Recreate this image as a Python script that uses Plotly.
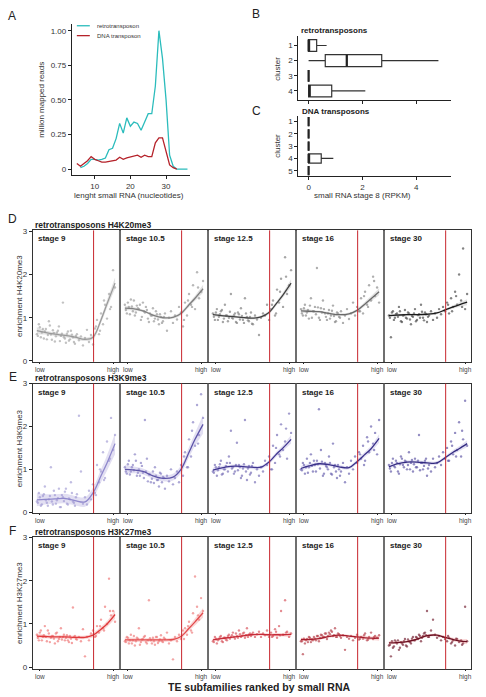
import plotly.graph_objects as go

W, H = 486, 697
FONT = "Liberation Sans, Arial, sans-serif"

# ---------------- Panel A data ----------------
len_retro = [6, 7, 8, 9, 10, 11, 12, 13, 14, 15, 16, 17, 18, 19, 20, 21, 22, 23, 24, 25, 26, 27, 28, 29, 30, 31, 32, 33, 34, 35, 36]
val_retro = [0.01, 0.02, 0.04, 0.07, 0.07, 0.065, 0.07, 0.08, 0.14, 0.15, 0.22, 0.33, 0.26, 0.37, 0.31, 0.34, 0.33, 0.28, 0.34, 0.40, 0.40, 0.60, 1.00, 0.80, 0.50, 0.10, 0.02, 0.0, 0.0, 0.0, 0.0]
len_dna = [5, 6, 7, 8, 9, 10, 11, 12, 13, 14, 15, 16, 17, 18, 19, 20, 21, 22, 23, 24, 25, 26, 27, 28, 29, 30, 31, 32, 33]
val_dna = [0.04, 0.02, 0.04, 0.06, 0.09, 0.07, 0.06, 0.05, 0.05, 0.055, 0.06, 0.065, 0.085, 0.07, 0.08, 0.085, 0.09, 0.10, 0.085, 0.10, 0.09, 0.09, 0.19, 0.225, 0.225, 0.12, 0.03, 0.01, 0.0]

# ---------------- Panel B / C box stats ----------------
b_cluster = [1, 2, 3, 4]
b_low = [0.0, 0.0, 0.0, 0.0]
b_q1 = [0.0, 0.62, 0.0, 0.0]
b_med = [0.0, 1.42, 0.0, 0.04]
b_q3 = [0.30, 2.72, 0.0, 0.86]
b_high = [0.67, 4.83, 0.0, 2.11]

c_cluster = [1, 2, 3, 4, 5]
c_low = [0.0, 0.0, 0.0, 0.0, 0.0]
c_q1 = [0.0, 0.0, 0.0, 0.0, 0.0]
c_med = [0.0, 0.0, 0.0, 0.0, 0.0]
c_q3 = [0.0, 0.0, 0.0, 0.47, 0.0]
c_high = [0.0, 0.0, 0.0, 0.92, 0.0]

# ---------------- Panels D/E/F ----------------
stages = ["stage 9", "stage 10.5", "stage 12.5", "stage 16", "stage 30"]
rank_ticks = [2.5, 39.0]
rank_labels = ["low", "high"]
rank_boundary = 29.3
knot_rank = [1, 5, 10, 15, 20, 25, 29, 33, 36, 40]
extra_rank = [1.5, 2.5, 3.5, 4.5, 5.5, 6.5, 7.5, 8.5, 9.5, 10.5, 11.5, 12.5, 13.5, 14.5, 15.5, 16.5, 17.5, 18.5, 19.5, 20.5, 30.5, 32.5, 34.5, 37.5]

# H4K20me3
d_pts_9 = [0.62, 0.85, 0.55, 0.74, 0.68, 0.50, 0.92, 0.61, 0.71, 0.45, 0.66, 0.80, 0.58, 1.35, 0.52, 0.63, 0.47, 0.70, 0.55, 0.40, 0.62, 0.48, 0.57, 0.36, 0.53, 0.72, 0.44, 0.60, 0.38, 0.75, 0.95, 0.62, 1.10, 0.85, 1.30, 0.98, 1.55, 1.25, 2.10, 1.70]
d_pts_105 = [1.30, 1.10, 1.25, 1.42, 1.15, 1.05, 1.28, 1.20, 0.95, 1.35, 1.12, 1.18, 0.90, 1.05, 1.22, 0.98, 1.08, 0.85, 1.02, 0.92, 1.10, 0.70, 1.00, 1.15, 0.88, 1.05, 0.96, 1.25, 1.12, 0.80, 1.35, 1.05, 1.55, 1.30, 1.75, 1.20, 2.05, 1.45, 1.60, 1.85]
d_pts_125 = [1.10, 0.95, 1.20, 1.02, 1.15, 0.90, 1.30, 1.05, 1.00, 1.55, 0.98, 1.10, 0.88, 1.08, 1.22, 0.95, 1.45, 1.02, 0.92, 1.12, 0.85, 1.05, 0.96, 0.60, 1.00, 1.10, 1.05, 1.30, 0.95, 1.20, 1.40, 1.05, 1.65, 1.35, 1.90, 1.25, 2.40, 1.55, 1.75, 2.10]
d_pts_16 = [1.20, 1.05, 1.30, 1.12, 0.98, 1.45, 1.15, 1.25, 2.15, 1.00, 1.22, 1.40, 1.10, 0.95, 1.18, 1.05, 1.28, 0.90, 1.12, 1.02, 1.15, 0.88, 1.05, 1.20, 0.97, 1.10, 1.35, 1.05, 1.25, 1.15, 1.45, 1.10, 1.60, 1.30, 1.75, 1.40, 1.95, 1.50, 1.70, 1.35]
d_pts_30 = [1.05, 0.55, 1.15, 1.00, 1.10, 1.25, 0.92, 1.05, 1.18, 0.98, 1.10, 0.85, 1.02, 1.20, 0.95, 1.08, 1.30, 1.00, 1.12, 0.90, 1.05, 1.15, 0.95, 1.10, 1.00, 1.20, 1.08, 1.25, 1.15, 1.35, 1.10, 1.45, 1.25, 1.60, 1.30, 2.00, 1.40, 2.60, 1.20, 1.55]
d_ext_9 = [0.58, 0.78, 0.66, 0.52, 0.74, 0.60, 0.82, 0.49, 0.65, 0.57, 0.70, 0.46, 0.63, 0.55, 0.42, 0.68, 0.50, 0.61, 0.44, 0.58, 0.80, 0.70, 1.40, 1.20]
d_ext_105 = [1.18, 1.35, 1.08, 1.26, 1.40, 1.12, 1.22, 1.30, 1.02, 1.15, 1.25, 0.98, 1.10, 1.05, 0.92, 1.15, 0.96, 1.08, 0.88, 1.02, 0.95, 1.40, 1.25, 1.70]
d_ext_125 = [1.02, 1.12, 0.95, 1.08, 1.18, 0.98, 1.05, 0.92, 1.14, 1.00, 1.06, 0.90, 1.12, 0.96, 1.04, 0.88, 1.10, 0.94, 1.02, 0.86, 1.30, 1.10, 1.60, 1.95]
d_ext_16 = [1.10, 1.22, 1.05, 1.18, 1.28, 1.00, 1.15, 1.08, 1.24, 0.95, 1.12, 1.20, 1.02, 1.10, 0.98, 1.16, 1.04, 0.92, 1.10, 1.00, 1.15, 1.50, 1.25, 1.85]
d_ext_30 = [1.00, 1.12, 0.95, 1.08, 1.02, 1.15, 0.90, 1.06, 1.00, 1.12, 0.96, 1.04, 1.10, 0.92, 1.06, 1.00, 1.14, 0.94, 1.08, 1.02, 1.30, 1.15, 1.50, 1.25]
d_fit_9 = [0.70, 0.66, 0.62, 0.59, 0.55, 0.50, 0.55, 0.95, 1.32, 1.80]
d_fit_105 = [1.22, 1.21, 1.16, 1.06, 1.00, 1.01, 1.10, 1.30, 1.45, 1.67]
d_fit_125 = [1.07, 1.05, 1.03, 1.01, 0.99, 1.02, 1.12, 1.35, 1.53, 1.80]
d_fit_16 = [1.16, 1.15, 1.14, 1.10, 1.07, 1.09, 1.17, 1.32, 1.44, 1.60]
d_fit_30 = [1.05, 1.06, 1.07, 1.07, 1.08, 1.11, 1.18, 1.25, 1.30, 1.36]
d_se_9 = [0.08, 0.05, 0.04, 0.04, 0.04, 0.04, 0.05, 0.07, 0.09, 0.13]
d_se_105 = [0.05, 0.04, 0.03, 0.03, 0.03, 0.03, 0.04, 0.05, 0.06, 0.09]
d_se_125 = [0.04, 0.03, 0.03, 0.03, 0.03, 0.03, 0.04, 0.05, 0.06, 0.09]
d_se_16 = [0.05, 0.04, 0.03, 0.03, 0.03, 0.03, 0.04, 0.05, 0.06, 0.08]
d_se_30 = [0.04, 0.03, 0.03, 0.03, 0.03, 0.03, 0.03, 0.04, 0.05, 0.07]

# H3K9me3
e_pts_9 = [0.25, 0.45, 0.15, 0.38, 0.60, 0.22, 0.30, 1.05, 0.18, 0.40, 0.28, 0.55, 0.12, 0.35, 0.48, 0.20, 0.32, 0.70, 0.25, 0.15, 0.42, 2.25, 0.95, 0.20, 0.35, 0.18, 0.50, 0.30, 0.65, 0.45, 1.10, 0.70, 0.95, 1.40, 0.80, 1.65, 1.20, 2.20, 1.45, 1.80]
e_pts_105 = [1.05, 0.90, 1.20, 0.95, 1.10, 1.35, 0.85, 1.00, 1.15, 0.92, 2.15, 1.25, 0.88, 0.70, 0.95, 1.05, 0.75, 0.60, 0.90, 0.82, 0.55, 0.85, 0.72, 1.00, 0.65, 0.80, 0.95, 0.70, 1.10, 0.85, 1.40, 1.05, 1.70, 1.30, 2.10, 1.55, 2.50, 1.80, 2.75, 2.20]
e_pts_125 = [0.95, 1.10, 0.85, 1.05, 1.20, 0.90, 1.00, 1.15, 1.30, 1.90, 1.05, 0.95, 1.62, 1.10, 0.80, 1.02, 2.15, 0.75, 1.08, 0.92, 1.15, 0.70, 1.00, 0.85, 1.05, 0.95, 1.20, 1.10, 1.30, 1.00, 1.55, 1.15, 1.80, 1.35, 2.05, 1.45, 1.65, 1.25, 2.30, 1.85]
e_pts_16 = [1.00, 1.15, 0.90, 1.25, 1.05, 1.35, 0.95, 1.10, 1.20, 2.40, 1.45, 0.85, 1.15, 1.05, 1.30, 0.90, 1.60, 1.10, 0.80, 1.00, 0.95, 1.15, 0.70, 1.05, 0.90, 1.20, 1.00, 1.30, 1.15, 1.40, 1.25, 1.55, 1.20, 1.75, 1.40, 2.00, 1.60, 1.85, 1.35, 2.15]
e_pts_30 = [1.10, 0.95, 1.25, 1.05, 1.15, 0.90, 1.30, 1.10, 1.20, 1.00, 1.40, 1.15, 0.95, 1.25, 1.05, 1.80, 1.15, 1.00, 1.20, 0.85, 1.10, 0.95, 1.25, 1.05, 1.15, 1.30, 1.10, 1.40, 1.25, 1.50, 1.20, 1.65, 1.35, 1.85, 1.45, 2.10, 1.30, 1.70, 2.60, 1.55]
e_ext_9 = [0.22, 0.35, 0.18, 0.42, 0.28, 0.15, 0.38, 0.25, 0.50, 0.20, 0.33, 0.12, 0.40, 0.26, 0.55, 0.18, 0.30, 0.45, 0.22, 0.35, 0.40, 1.00, 0.75, 1.25]
e_ext_105 = [0.95, 1.12, 0.88, 1.05, 0.98, 1.20, 0.92, 0.85, 1.08, 0.80, 0.95, 0.72, 0.88, 0.78, 0.68, 0.85, 0.75, 0.92, 0.70, 0.80, 1.30, 1.05, 1.90, 1.60]
e_ext_125 = [0.92, 1.05, 0.98, 1.12, 0.88, 1.00, 1.08, 0.95, 1.15, 1.02, 0.90, 1.10, 0.98, 1.05, 0.85, 1.12, 0.95, 1.02, 0.88, 1.08, 1.00, 1.50, 1.30, 1.95]
e_ext_16 = [0.98, 1.10, 1.05, 0.92, 1.15, 1.08, 1.20, 0.95, 1.12, 1.02, 1.18, 0.90, 1.08, 1.00, 1.15, 0.88, 1.05, 0.95, 1.10, 0.85, 1.35, 1.10, 1.65, 1.45]
e_ext_30 = [1.02, 1.15, 1.08, 1.20, 0.95, 1.12, 1.25, 1.05, 1.18, 1.10, 1.00, 1.22, 1.12, 1.05, 1.20, 0.98, 1.15, 1.08, 1.25, 1.02, 1.20, 1.55, 1.30, 1.90]
e_fit_9 = [0.29, 0.30, 0.31, 0.32, 0.27, 0.24, 0.45, 0.85, 1.15, 1.60]
e_fit_105 = [1.00, 0.99, 0.95, 0.85, 0.79, 0.82, 1.00, 1.40, 1.70, 2.05]
e_fit_125 = [0.98, 1.03, 1.07, 1.07, 1.05, 1.05, 1.17, 1.37, 1.50, 1.70]
e_fit_16 = [1.02, 1.08, 1.13, 1.11, 1.06, 1.04, 1.18, 1.35, 1.48, 1.72]
e_fit_30 = [1.06, 1.13, 1.17, 1.17, 1.15, 1.15, 1.27, 1.40, 1.48, 1.60]
e_se_9 = [0.15, 0.12, 0.11, 0.11, 0.11, 0.11, 0.12, 0.15, 0.18, 0.25]
e_se_105 = [0.10, 0.08, 0.07, 0.07, 0.07, 0.08, 0.09, 0.12, 0.15, 0.22]
e_se_125 = [0.06, 0.05, 0.04, 0.04, 0.04, 0.04, 0.05, 0.06, 0.07, 0.10]
e_se_16 = [0.06, 0.05, 0.04, 0.04, 0.04, 0.04, 0.05, 0.06, 0.07, 0.10]
e_se_30 = [0.05, 0.04, 0.04, 0.04, 0.04, 0.04, 0.04, 0.05, 0.06, 0.08]

# H3K27me3
f_pts_9 = [0.75, 0.62, 0.85, 0.70, 0.95, 0.60, 0.78, 0.68, 0.72, 0.55, 0.80, 0.65, 0.90, 0.70, 0.62, 0.74, 0.58, 0.66, 1.38, 0.72, 0.64, 0.70, 0.60, 0.88, 0.25, 0.70, 0.62, 0.78, 0.85, 0.70, 0.95, 0.80, 1.10, 0.90, 1.40, 1.00, 2.05, 1.20, 1.30, 1.05]
f_pts_105 = [0.60, 0.70, 0.55, 0.75, 0.62, 0.50, 0.68, 0.90, 0.58, 0.65, 0.72, 0.55, 1.55, 0.62, 0.68, 0.52, 0.70, 0.60, 0.74, 0.58, 0.65, 0.80, 0.55, 0.62, 0.18, 0.70, 0.60, 0.75, 0.65, 0.85, 0.90, 0.75, 1.05, 0.85, 1.25, 2.10, 1.40, 1.10, 1.60, 1.30]
f_pts_125 = [0.60, 0.70, 0.55, 0.65, 0.72, 0.58, 0.68, 0.62, 0.75, 0.70, 0.80, 0.66, 0.72, 0.85, 0.70, 0.78, 0.68, 0.90, 0.75, 0.72, 0.80, 0.70, 0.76, 0.82, 0.70, 0.78, 0.74, 0.85, 0.70, 0.80, 0.72, 0.88, 0.68, 0.95, 1.30, 0.75, 1.55, 0.82, 0.70, 0.78]
f_pts_16 = [0.60, 0.30, 0.55, 0.65, 0.70, 0.58, 0.62, 0.66, 0.72, 0.60, 0.75, 0.70, 0.78, 0.65, 0.80, 0.85, 0.72, 0.90, 0.70, 0.76, 0.68, 0.74, 0.40, 0.70, 0.66, 0.72, 0.62, 0.68, 0.75, 0.64, 0.70, 0.66, 0.78, 0.62, 0.70, 0.80, 0.65, 0.72, 0.68, 0.74]
f_pts_30 = [0.50, 0.25, 0.45, 0.62, 0.55, 0.40, 0.58, 0.52, 0.65, 0.48, 0.60, 0.55, 0.70, 0.62, 0.68, 0.75, 0.60, 0.72, 0.80, 1.30, 0.70, 0.85, 1.10, 0.75, 0.68, 0.72, 0.62, 0.70, 0.65, 0.60, 0.68, 0.55, 0.62, 0.50, 0.65, 0.58, 0.62, 0.55, 1.40, 0.60]
f_ext_9 = [0.68, 0.80, 0.62, 0.74, 0.70, 0.85, 0.58, 0.72, 0.66, 0.78, 0.60, 0.70, 0.64, 0.75, 0.68, 0.62, 0.72, 0.56, 0.70, 0.65, 0.72, 0.95, 0.85, 1.30]
f_ext_105 = [0.58, 0.68, 0.62, 0.55, 0.72, 0.60, 0.66, 0.52, 0.64, 0.70, 0.58, 0.62, 0.67, 0.55, 0.60, 0.70, 0.56, 0.64, 0.60, 0.68, 0.65, 0.95, 0.80, 1.20]
f_ext_125 = [0.58, 0.66, 0.62, 0.70, 0.60, 0.68, 0.64, 0.72, 0.66, 0.74, 0.70, 0.78, 0.68, 0.76, 0.72, 0.80, 0.74, 0.70, 0.78, 0.76, 0.70, 0.82, 0.74, 0.80]
f_ext_16 = [0.60, 0.66, 0.62, 0.58, 0.68, 0.64, 0.70, 0.62, 0.72, 0.68, 0.74, 0.70, 0.78, 0.72, 0.76, 0.82, 0.74, 0.70, 0.78, 0.72, 0.66, 0.74, 0.64, 0.70]
f_ext_30 = [0.52, 0.60, 0.48, 0.58, 0.62, 0.45, 0.55, 0.60, 0.50, 0.64, 0.58, 0.66, 0.62, 0.70, 0.65, 0.72, 0.68, 0.78, 0.74, 0.70, 0.72, 0.58, 0.66, 0.52]
f_fit_9 = [0.72, 0.71, 0.70, 0.70, 0.69, 0.69, 0.74, 0.88, 1.00, 1.22]
f_fit_105 = [0.63, 0.63, 0.63, 0.63, 0.63, 0.64, 0.71, 0.90, 1.05, 1.26]
f_fit_125 = [0.63, 0.66, 0.69, 0.72, 0.75, 0.76, 0.75, 0.75, 0.75, 0.76]
f_fit_16 = [0.64, 0.64, 0.66, 0.71, 0.74, 0.72, 0.70, 0.68, 0.67, 0.67]
f_fit_30 = [0.56, 0.57, 0.59, 0.65, 0.73, 0.74, 0.69, 0.64, 0.61, 0.59]
f_se_9 = [0.06, 0.04, 0.04, 0.04, 0.04, 0.04, 0.05, 0.06, 0.07, 0.10]
f_se_105 = [0.06, 0.05, 0.04, 0.04, 0.04, 0.04, 0.05, 0.06, 0.08, 0.11]
f_se_125 = [0.04, 0.03, 0.03, 0.03, 0.03, 0.03, 0.03, 0.04, 0.04, 0.06]
f_se_16 = [0.04, 0.03, 0.03, 0.03, 0.03, 0.03, 0.03, 0.04, 0.04, 0.06]
f_se_30 = [0.04, 0.03, 0.03, 0.03, 0.03, 0.03, 0.03, 0.04, 0.04, 0.06]

rows = [
    dict(letter="D", title="retrotransposons H4K20me3", ytitle="enrichment H4K20me3",
         pts=[d_pts_9, d_pts_105, d_pts_125, d_pts_16, d_pts_30],
         ext=[d_ext_9, d_ext_105, d_ext_125, d_ext_16, d_ext_30],
         fit=[d_fit_9, d_fit_105, d_fit_125, d_fit_16, d_fit_30],
         se=[d_se_9, d_se_105, d_se_125, d_se_16, d_se_30],
         top=229, bottom=362, yr=[-0.02, 3.02], ly=218, ty=224,
         ptcol=["#a8a8a8", "#9a9a9a", "#808080", "#8c8c8c", "#505050"],
         lncol=["#9a9a9a", "#808080", "#404040", "#6a6a6a", "#1a1a1a"],
         ribbon="rgba(160,160,160,0.30)"),
    dict(letter="E", title="retrotransposons H3K9me3", ytitle="enrichment H3K9me3",
         pts=[e_pts_9, e_pts_105, e_pts_125, e_pts_16, e_pts_30],
         ext=[e_ext_9, e_ext_105, e_ext_125, e_ext_16, e_ext_30],
         fit=[e_fit_9, e_fit_105, e_fit_125, e_fit_16, e_fit_30],
         se=[e_se_9, e_se_105, e_se_125, e_se_16, e_se_30],
         top=384, bottom=515, yr=[-0.02, 3.0], ly=377, ty=378,
         ptcol=["#a7a1d6", "#8a83c4", "#7a72b8", "#6e66b0", "#655da8"],
         lncol=["#8f88cc", "#5d54a8", "#3f3590", "#3a3189", "#332b80"],
         ribbon="rgba(150,140,210,0.28)"),
    dict(letter="F", title="retrotransposons H3K27me3", ytitle="enrichment H3K27me3",
         pts=[f_pts_9, f_pts_105, f_pts_125, f_pts_16, f_pts_30],
         ext=[f_ext_9, f_ext_105, f_ext_125, f_ext_16, f_ext_30],
         fit=[f_fit_9, f_fit_105, f_fit_125, f_fit_16, f_fit_30],
         se=[f_se_9, f_se_105, f_se_125, f_se_16, f_se_30],
         top=539, bottom=673, yr=[-0.05, 3.02], ly=533, ty=534,
         ptcol=["#f07a7a", "#ee8080", "#d85a62", "#b84650", "#7a2a3a"],
         lncol=["#e03a3c", "#e24a4c", "#c62a38", "#a41e2e", "#6a1022"],
         ribbon="rgba(240,120,120,0.30)"),
]

panel_left = [33, 121.2, 209.4, 297.6, 385.8]
panel_w = 86.2


def fx(px):
    return px / W


def fy(py):
    return 1 - py / H


fig = go.Figure()
layout = {}
annotations = []
shapes = []

axis_common = dict(showgrid=False, zeroline=False, showline=True, linecolor="#222222",
                   linewidth=1, ticks="outside", ticklen=3, tickcolor="#222222",
                   tickfont=dict(size=8, color="#333333", family=FONT))

# ---------- Panel A ----------
fig.add_trace(go.Scatter(x=len_retro, y=val_retro, mode="lines", xaxis="x", yaxis="y",
                         line=dict(color="#2bbcbc", width=1.3), showlegend=False))
fig.add_trace(go.Scatter(x=len_dna, y=val_dna, mode="lines", xaxis="x", yaxis="y",
                         line=dict(color="#b5222a", width=1.3), showlegend=False))
layout["xaxis"] = dict(axis_common, domain=[fx(72), fx(190)], range=[3.6, 36.6],
                       tickvals=[10, 20, 30], anchor="y")
layout["yaxis"] = dict(axis_common, domain=[fy(173), fy(20)], range=[-0.043, 1.05],
                       tickvals=[0, 0.25, 0.5, 0.75, 1.0],
                       ticktext=["0", "0.25", "0.50", "0.75", "1.00"], anchor="x")
# legend (manual)
for yy, col, txt in [(22, "#2bbcbc", "retrotransposon"), (32, "#b5222a", "DNA transposon")]:
    shapes.append(dict(type="line", xref="paper", yref="paper", x0=fx(77), x1=fx(90),
                       y0=fy(yy), y1=fy(yy), line=dict(color=col, width=1.3)))
    annotations.append(dict(x=fx(95), y=fy(yy), xref="paper", yref="paper", text=txt,
                            showarrow=False, xanchor="left", yanchor="middle",
                            font=dict(size=6, color="#333333", family=FONT)))

# ---------- Panel B ----------
box_style = dict(orientation="h", fillcolor="white", line=dict(color="#333333", width=1.2),
                 whiskerwidth=0, showlegend=False, hoverinfo="skip")
fig.add_trace(go.Box(y=b_cluster, q1=b_q1, median=b_med, q3=b_q3, lowerfence=b_low,
                     upperfence=b_high, width=0.78, xaxis="x2", yaxis="y2", **box_style))
for m, c in zip(b_med, b_cluster):
    fig.add_trace(go.Scatter(x=[m, m], y=[c - 0.39, c + 0.39], mode="lines", xaxis="x2",
                             yaxis="y2", line=dict(color="#222222", width=2.2),
                             showlegend=False, hoverinfo="skip"))
layout["xaxis2"] = dict(axis_common, domain=[fx(299), fx(452)], range=[-0.38, 5.3],
                        tickvals=[0, 2, 4], showticklabels=False, anchor="y2")
layout["yaxis2"] = dict(axis_common, domain=[fy(97), fy(32)], range=[4.59, 0.35],
                        tickvals=b_cluster, anchor="x2")

# ---------- Panel C ----------
fig.add_trace(go.Box(y=c_cluster, q1=c_q1, median=c_med, q3=c_q3, lowerfence=c_low,
                     upperfence=c_high, width=0.75, xaxis="x3", yaxis="y3", **box_style))
for m, c in zip(c_med, c_cluster):
    fig.add_trace(go.Scatter(x=[m, m], y=[c - 0.375, c + 0.375], mode="lines", xaxis="x3",
                             yaxis="y3", line=dict(color="#222222", width=2.2),
                             showlegend=False, hoverinfo="skip"))
layout["xaxis3"] = dict(axis_common, domain=[fx(299), fx(452)], range=[-0.38, 5.3],
                        tickvals=[0, 2, 4], anchor="y3")
layout["yaxis3"] = dict(axis_common, domain=[fy(174), fy(113)], range=[5.43, 0.52],
                        tickvals=c_cluster, anchor="x3")

# ---------- Panels D/E/F ----------
k = 4
for row in rows:
    for i in range(5):
        xa, ya = f"x{k}", f"y{k}"
        pts = row["pts"][i]
        ranks = list(range(1, len(pts) + 1))
        fit = row["fit"][i]
        se = row["se"][i]
        upper = [f + s for f, s in zip(fit, se)]
        lower = [f - s for f, s in zip(fit, se)]
        fig.add_trace(go.Scatter(x=ranks + extra_rank, y=pts + row["ext"][i], mode="markers",
                                 xaxis=xa, yaxis=ya,
                                 marker=dict(size=2.4, color=row["ptcol"][i], opacity=0.7),
                                 showlegend=False, hoverinfo="skip"))
        fig.add_trace(go.Scatter(x=knot_rank, y=upper, mode="lines", xaxis=xa, yaxis=ya,
                                 line=dict(width=0, shape="spline", color=row["ribbon"]),
                                 showlegend=False, hoverinfo="skip"))
        fig.add_trace(go.Scatter(x=knot_rank, y=lower, mode="lines", xaxis=xa, yaxis=ya,
                                 line=dict(width=0, shape="spline", color=row["ribbon"]),
                                 fill="tonexty", fillcolor=row["ribbon"],
                                 showlegend=False, hoverinfo="skip"))
        fig.add_trace(go.Scatter(x=knot_rank, y=fit, mode="lines", xaxis=xa, yaxis=ya,
                                 line=dict(width=1.3, shape="spline", color=row["lncol"][i]),
                                 showlegend=False, hoverinfo="skip"))
        shapes.append(dict(type="line", xref=xa, yref=f"{ya} domain", x0=rank_boundary,
                           x1=rank_boundary, y0=0, y1=1, line=dict(color="#c8262e", width=1)))
        x0 = panel_left[i]
        layout[f"xaxis{k}"] = dict(axis_common, domain=[fx(x0), fx(x0 + panel_w)],
                                   range=[-0.95, 41.95], tickvals=rank_ticks,
                                   ticktext=rank_labels, ticklen=1, mirror=True,
                                   linecolor="#333333", linewidth=1.3,
                                   tickfont=dict(size=6.5, color="#444444", family=FONT),
                                   anchor=ya)
        yax = dict(axis_common, domain=[fy(row["bottom"]), fy(row["top"])],
                   range=row["yr"], tickvals=[0, 1, 2, 3], mirror=True,
                   linecolor="#333333", linewidth=1.3, anchor=xa)
        if i > 0:
            yax.update(showticklabels=False, ticks="")
        layout[f"yaxis{k}"] = yax
        annotations.append(dict(x=fx(x0 + 3), y=fy(row["top"] + 2), xref="paper", yref="paper",
                                text=f"<b>{stages[i]}</b>", showarrow=False,
                                xanchor="left", yanchor="top",
                                font=dict(size=8, color="#222222", family=FONT)))
        if i < 4:
            shapes.append(dict(type="rect", xref="paper", yref="paper",
                               x0=fx(x0 + panel_w), x1=fx(panel_left[i + 1]),
                               y0=fy(row["bottom"]), y1=fy(row["top"]),
                               fillcolor="#6f6f6f", line=dict(width=0)))
        k += 1
    annotations.append(dict(x=fx(33), y=fy(row["ty"]), xref="paper", yref="paper",
                            text=f"<b>{row['title']}</b>", showarrow=False,
                            xanchor="left", yanchor="middle",
                            font=dict(size=8.5, color="#222222", family=FONT)))
    annotations.append(dict(x=fx(13), y=fy(row["ly"]), xref="paper", yref="paper",
                            text=row["letter"], showarrow=False, xanchor="center",
                            yanchor="middle", font=dict(size=12, color="#222222", family=FONT)))
    annotations.append(dict(x=fx(19), y=fy((row["top"] + row["bottom"]) / 2), xref="paper",
                            yref="paper", text=row["ytitle"], showarrow=False, textangle=-90,
                            xanchor="center", yanchor="middle",
                            font=dict(size=8, color="#333333", family=FONT)))

# ---------- other text ----------
txt = [
    ("A", 12, 12, 12, False, 0), ("B", 257, 10, 12, False, 0), ("C", 257, 108, 12, False, 0),
]
for t, x, y, s, b, a in txt:
    annotations.append(dict(x=fx(x), y=fy(y), xref="paper", yref="paper", text=t,
                            showarrow=False, xanchor="center", yanchor="middle",
                            font=dict(size=s, color="#222222", family=FONT)))
annotations += [
    dict(x=fx(42), y=fy(97), text="million mapped reads", textangle=-90,
         font=dict(size=8, color="#333333", family=FONT)),
    dict(x=fx(129), y=fy(194), text="lenght small RNA (nucleotides)",
         font=dict(size=8, color="#333333", family=FONT)),
    dict(x=fx(278), y=fy(65), text="cluster", textangle=-90,
         font=dict(size=8, color="#333333", family=FONT)),
    dict(x=fx(278), y=fy(143), text="cluster", textangle=-90,
         font=dict(size=8, color="#333333", family=FONT)),
    dict(x=fx(363), y=fy(194), text="small RNA stage 8 (RPKM)",
         font=dict(size=8, color="#333333", family=FONT)),
    dict(x=fx(300), y=fy(27), text="<b>retrotransposons</b>", xanchor="left",
         font=dict(size=8, color="#222222", family=FONT)),
    dict(x=fx(301), y=fy(109), text="<b>DNA transposons</b>", xanchor="left",
         font=dict(size=8, color="#222222", family=FONT)),
    dict(x=fx(260), y=fy(690.5), text="<b>TE subfamilies ranked by small RNA</b>",
         font=dict(size=10.5, color="#222222", family=FONT)),
]
for a in annotations:
    a.setdefault("xref", "paper")
    a.setdefault("yref", "paper")
    a.setdefault("showarrow", False)
    a.setdefault("xanchor", "center")
    a.setdefault("yanchor", "middle")

fig.update_layout(width=W, height=H, margin=dict(l=0, r=0, t=0, b=0),
                  paper_bgcolor="white", plot_bgcolor="white",
                  font=dict(family=FONT), showlegend=False,
                  annotations=annotations, shapes=shapes, **layout)
fig.write_html("out.html", config={"displayModeBar": False},
               post_script="document.body.style.margin='0px';document.body.style.overflow='hidden';")
